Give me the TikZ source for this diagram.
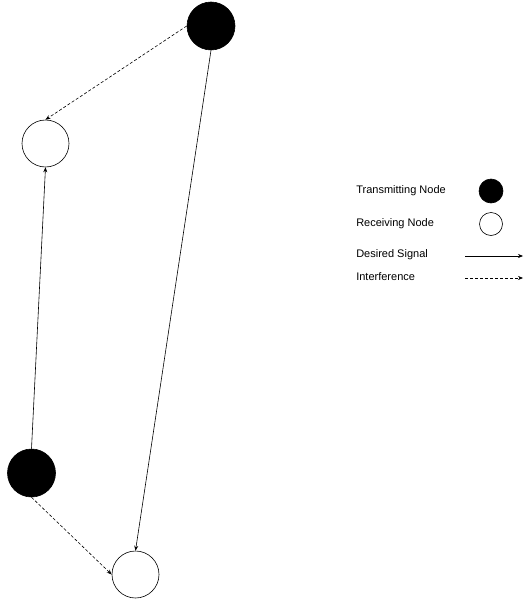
\documentclass[tikz,border=0pt]{standalone}
\usepackage{fontspec}
\setmainfont{Liberation Sans}
\usetikzlibrary{arrows.meta}

\begin{document}
\begin{tikzpicture}[x=1pt,y=-1pt,>={Stealth[length=5pt,width=4pt]},line width=0.6pt,
  tx node/.style={circle,draw,fill=black,inner sep=0pt,minimum size=48pt},
  rx node/.style={circle,draw,fill=white,inner sep=0pt,minimum size=47pt},
  interf/.style={->,dash pattern=on 3pt off 2pt},
  label text/.style={anchor=west,inner sep=0pt,font=\fontsize{11}{13}\selectfont}]

    \useasboundingbox (0, 0) rectangle (523, 605);

    % network
    \node[tx node] (t1) at (211, 26) {};
    \node[rx node] (r1) at (45.5, 143.5) {};
    \node[tx node] (t2) at (31.5, 473) {};
    \node[rx node] (r2) at (135.5, 574.5) {};

    \draw[->] (t2.north) -- (r1.south);
    \draw[->] (t1.south) -- (r2.north);
    \draw[interf] (t1.west) -- (r1.north);
    \draw[interf] (t2.south) -- (r2.west);

    % legend
    \node[label text] (ltx) at (356, 191) {Transmitting Node};
    \node[label text] (lrx) at (356, 224) {Receiving Node};
    \node[label text] (lsig) at (356, 255) {Desired Signal};
    \node[label text] (lint) at (356, 277) {Interference};

    \node[tx node,minimum size=24pt] (ltxc) at (491, 191) {};
    \node[rx node,minimum size=23pt] (lrxc) at (491, 224) {};

    \coordinate (sa) at (465, 256);
    \coordinate (sb) at (523, 256);
    \coordinate (ia) at (465, 278);
    \coordinate (ib) at (523, 278);
    \draw[->] (sa) -- (sb);
    \draw[interf] (ia) -- (ib);

\end{tikzpicture}
\end{document}
